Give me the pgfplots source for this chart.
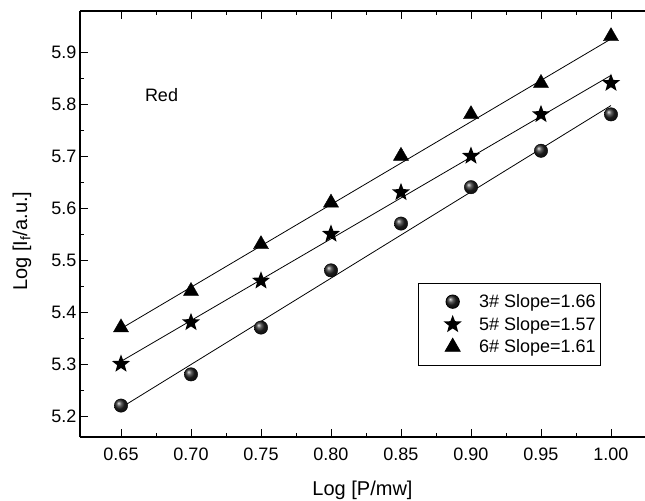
\documentclass[border=0pt]{standalone}
\usepackage{fontspec}
\setmainfont{Liberation Sans}
\usepackage{pgfplots}
\pgfplotsset{compat=1.18}
\usetikzlibrary{plotmarks,shadings}
\pgfdeclareplotmark{fstar}{%
  \pgfpathmoveto{\pgfqpointpolar{90}{\pgfplotmarksize}}%
  \pgfpathlineto{\pgfqpointpolar{126}{0.42\pgfplotmarksize}}%
  \pgfpathlineto{\pgfqpointpolar{162}{\pgfplotmarksize}}%
  \pgfpathlineto{\pgfqpointpolar{198}{0.42\pgfplotmarksize}}%
  \pgfpathlineto{\pgfqpointpolar{234}{\pgfplotmarksize}}%
  \pgfpathlineto{\pgfqpointpolar{270}{0.42\pgfplotmarksize}}%
  \pgfpathlineto{\pgfqpointpolar{306}{\pgfplotmarksize}}%
  \pgfpathlineto{\pgfqpointpolar{342}{0.42\pgfplotmarksize}}%
  \pgfpathlineto{\pgfqpointpolar{18}{\pgfplotmarksize}}%
  \pgfpathlineto{\pgfqpointpolar{54}{0.42\pgfplotmarksize}}%
  \pgfpathclose
  \pgfusepathqfill}
\begin{document}
\begin{tikzpicture}
\useasboundingbox (-80bp,-64bp) rectangle (565bp,437bp);
\begin{axis}[
  at={(0,0)}, anchor=south west,
  scale only axis, width=565bp, height=426bp,
  xmin=0.62071, xmax=1.0243, ymin=5.1596, ymax=5.9788,
  axis x line*=box, axis y line*=left,
  clip=false,
  xtick={0.65,0.70,0.75,0.80,0.85,0.90,0.95,1.00},
  ytick={5.2,5.3,5.4,5.5,5.6,5.7,5.8,5.9},
  minor x tick num=1, minor y tick num=1,
  tick align=inside,
  major tick length=8bp, minor tick length=4bp,
  every tick/.style={black, line width=0.9bp},
  axis line style={line width=1.2bp},
  x tick label style={/pgf/number format/fixed, /pgf/number format/fixed zerofill, /pgf/number format/precision=2},
  y tick label style={/pgf/number format/fixed, /pgf/number format/fixed zerofill, /pgf/number format/precision=1},
  /pgf/number format/assume math mode=true,
  ticklabel style={font=\fontsize{18bp}{21bp}\selectfont},
  xticklabel style={yshift=-7bp},
  xlabel={Log [P/mw]},
  ylabel={Log [I\textsubscript{f}/a.u.]},
  label style={font=\fontsize{20bp}{24bp}\selectfont},
  xlabel style={at={(rel axis cs:0.5,0)}, anchor=center, yshift=-53bp},
  ylabel style={at={(rel axis cs:0,0.46)}, anchor=center, yshift=58bp},
  legend style={at={(rel axis cs:0.598,0.3615)}, anchor=north west,
    draw=black, line width=0.8bp, inner xsep=3bp, inner ysep=9bp,
    font=\fontsize{18bp}{21bp}\selectfont, row sep=4bp,
    nodes={inner sep=2bp}},
  legend cell align=left,
  legend image code/.code={\path (0bp,0bp) (55bp,0bp); \draw[#1] plot coordinates {(31bp,0bp)};},
]
\addplot[black, line width=0.8bp, forget plot] coordinates {(0.65,5.216) (1.00,5.797)};
\addplot[black, line width=0.8bp, forget plot] coordinates {(0.65,5.305) (1.00,5.855)};
\addplot[black, line width=0.8bp, forget plot] coordinates {(0.65,5.368) (1.00,5.925)};
\addplot[only marks, mark=ball, mark size=6.7bp, ball color=black!85] coordinates {
(0.65,5.22) (0.70,5.28) (0.75,5.37) (0.80,5.48) (0.85,5.57) (0.90,5.64) (0.95,5.71) (1.00,5.78)};
\addlegendentry{3\# Slope=1.66}
\addplot[only marks, mark=fstar, mark size=9.5bp, black] coordinates {
(0.65,5.30) (0.70,5.38) (0.75,5.46) (0.80,5.55) (0.85,5.63) (0.90,5.70) (0.95,5.78) (1.00,5.84)};
\addlegendentry{5\# Slope=1.57}
\addplot[only marks, mark=triangle*, mark size=8.7bp, black] coordinates {
(0.65,5.37) (0.70,5.44) (0.75,5.53) (0.80,5.61) (0.85,5.70) (0.90,5.78) (0.95,5.84) (1.00,5.93)};
\addlegendentry{6\# Slope=1.61}
\node[anchor=base west, inner sep=0pt, font=\fontsize{18bp}{21bp}\selectfont] at (axis cs:0.667,5.804) {Red};
\end{axis}
\end{tikzpicture}
\end{document}
